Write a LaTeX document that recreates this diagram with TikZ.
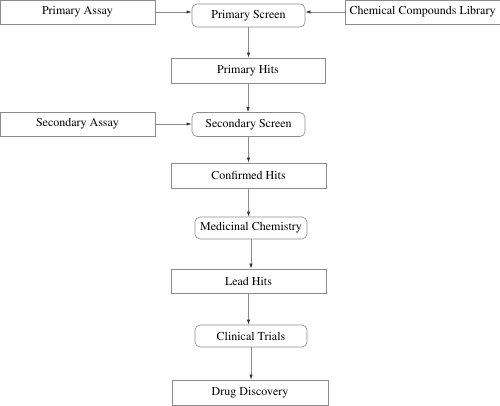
\documentclass[tikz,border=0pt]{standalone}
\usepackage[T1]{fontenc}
\usepackage{mathptmx}
\usetikzlibrary{arrows.meta}

\begin{document}
\begin{tikzpicture}[x=1pt,y=1pt,
    every node/.style={font=\fontsize{12}{14}\selectfont, inner sep=0pt},
    sbox/.style={draw=black!45, line width=.6pt, minimum width=155pt, minimum height=24pt},
    rbox/.style={sbox, rounded corners=5pt, minimum width=113pt, minimum height=23pt},
    arr/.style={draw=black!45, line width=.6pt, -{Latex[black!80,length=5pt,width=3.2pt]}}]
    \useasboundingbox (0,0) rectangle (500,-406);

    \node[sbox] (pa) at (77.5,-12) {Primary Assay};
    \node[rbox] (ps) at (248.5,-15.5) {Primary Screen};
    \node[sbox] (ccl) at (422.5,-12) {Chemical Compounds Library};
    \node[sbox, minimum width=154pt, minimum height=25pt] (ph) at (248,-70.5) {Primary Hits};
    \node[sbox] (sa) at (77.5,-124) {Secondary Assay};
    \node[rbox, minimum height=24pt] (ss) at (248.5,-124.5) {Secondary Screen};
    \node[sbox, minimum height=25pt] (ch) at (248.5,-175.5) {Confirmed Hits};
    \node[rbox, minimum width=112pt, minimum height=22pt] (mc) at (251,-228) {Medicinal Chemistry};
    \node[sbox] (lh) at (248.5,-281) {Lead Hits};
    \node[rbox, minimum width=112pt, minimum height=22pt] (ct) at (251,-336) {Clinical Trials};
    \node[sbox, minimum width=156pt, minimum height=25pt] (dd) at (250,-392.5) {Drug Discovery};

    %inputs
    \draw[arr] (pa.east) -- (pa.east -| ps.west);
    \draw[arr] (ccl.west) -- (ccl.west -| ps.east);
    \draw[arr] (sa.east) -- (sa.east -| ss.west);

    %main flow
    \draw[arr] (ps.south) -- (ps.south |- ph.north);
    \draw[arr] (ph.south) -- (ph.south |- ss.north);
    \draw[arr] (ss.south) -- (ss.south |- ch.north);
    \draw[arr] (ch.south) -- (ch.south |- mc.north);
    \draw[arr] (mc.south) -- (mc.south |- lh.north);
    \draw[arr] (lh.south) -- (lh.south |- ct.north);
    \draw[arr] (ct.south) -- (ct.south |- dd.north);

\end{tikzpicture}
\end{document}
